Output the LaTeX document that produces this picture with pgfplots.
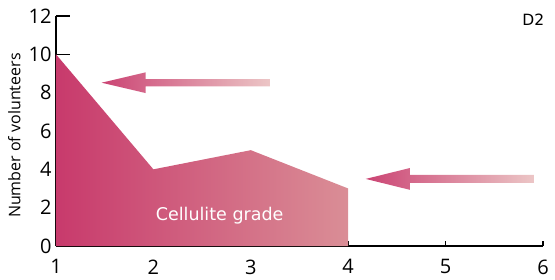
\documentclass[border=0pt]{standalone}
\usepackage{fontspec}
\setmainfont{Open Sans}
\newfontfamily\widefont{DejaVu Sans}
\usepackage{pgfplots}
\pgfplotsset{compat=1.18}
\definecolor{pinkdark}{RGB}{200,58,108}
\definecolor{pinklight}{RGB}{218,142,150}
\definecolor{pinktail}{RGB}{236,198,198}
\begin{document}
\begin{tikzpicture}
\begin{axis}[
  at={(0,0)}, anchor=south west,
  scale only axis, width=487pt, height=230pt,
  xmin=1, xmax=6, ymin=0, ymax=12,
  axis lines*=left,
  axis line style={line width=1.6pt, black},
  xtick={1,2,3,4,5,6}, ytick={0,2,4,6,8,10,12},
  tick align=inside,
  xtick style={line width=1.3pt, black, /pgfplots/major tick length=5pt},
  ytick style={line width=1.3pt, black, /pgfplots/major tick length=14pt},
  /pgf/number format/assume math mode=true,
  ticklabel style={font=\fontsize{20}{20}\selectfont},
  xticklabel style={yshift=-10pt},
  yticklabel style={xshift=-1pt},
  ylabel={Number of volunteers},
  ylabel style={font=\fontsize{16}{16}\selectfont, at={(axis description cs:0,0.48)}, anchor=south, yshift=32pt},
  clip=false,
]
\addplot[draw=none, left color=pinkdark, right color=pinklight] coordinates {(1,0) (1,10) (2,4) (3,5) (4,3) (4,0)} -- cycle;
% arrow 1
\addplot[draw=none, left color=pinkdark!95!white, right color=pinktail] coordinates {(1.468,8.52) (1.92,9.06) (1.92,8.71) (3.197,8.71) (3.197,8.33) (1.92,8.33) (1.92,7.98)} -- cycle;
% arrow 2
\addplot[draw=none, left color=pinkdark!95!white, right color=pinktail] coordinates {(4.18,3.50) (4.634,4.07) (4.634,3.71) (5.907,3.71) (5.907,3.29) (4.634,3.29) (4.634,2.93)} -- cycle;
\node[white, font=\widefont\fontsize{17.5}{17.5}\selectfont] at (axis cs:2.68,1.56) {Cellulite grade};
\node[black, font=\widefont\fontsize{15.5}{15.5}\selectfont] at (axis cs:5.90,11.79) {D2};
\end{axis}
\pgfresetboundingbox
\path (-56pt,-33pt) rectangle (499pt,246pt);
\end{tikzpicture}
\end{document}
